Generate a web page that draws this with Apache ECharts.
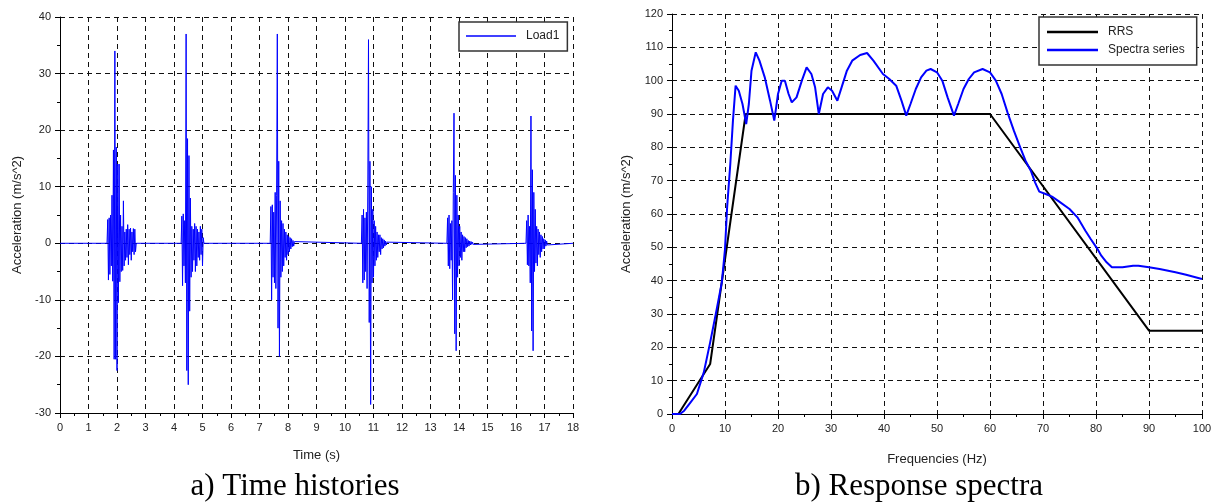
<!DOCTYPE html>
<html>
<head>
<meta charset="utf-8">
<script src="https://cdn.jsdelivr.net/npm/echarts@6/dist/echarts.min.js"></script>
<style>
  html, body { margin: 0; padding: 0; background: #fff; }
  #chart { width: 1215px; height: 504px; }
</style>
</head>
<body>
<div id="chart"></div>
<script>
// a) time histories - one burst per shock, sampled every timeStep seconds
var timeStep = 0.025;
var burstStart = [1.65, 4.25, 7.375, 10.575, 13.575, 16.35];
var burst1 = [0, 4.2, -6.5, 4.5, -5.5, 5, -4, 8.5, -6.7, 16.5, -20.5, 34, -20.5, 17, -22.5, 14, -10.5, 14, -6.8, 5,
  -5, 3, -4.8, 7.5, -4, 2, -3, 2.5, -2.5, 3.3, -3.8, 2.5, -2, 2.7, -3, 2, -1.5, 2.6, -2, 2.5, -1.5, 0];
var burst2 = [0, 4.8, -7.5, 5.2, -4, 4, -7, 37, -22.5, 18.5, -25, 15.5, -12, 8, -6, 3, -5, 2.5, -3, 3.5,
  -5, 3, -4, 2.5, -2.5, 2, -3, 3, -2, 2.5, -4, 1, 0];
var burst3 = [0, 6.5, -10, 6.8, -6, 5.5, -7, 9, -8, 8.5, 37, -15, 14.5, -20, 7.5, -6, 4, -5, 3.5, -4,
  2.5, -2.5, 2, -3, 1.5, -2, 1.2, -1.5, 1, -1, 0.8, -0.6, 0.5, -0.5, 0.3, 0];
var burst4 = [0, 5, -7, 6, -6.5, 4.5, -5, 5.5, -8, 10, 36, -14, 14.5, -28.5, 10, -7, 6, -6, 4, -4,
  3, -3, 2, -2.5, 1.5, -1.5, 1.5, -2, 1, -1, 0.8, -0.8, 0.6, -0.5, 0.4, -0.3, 0.2, 0];
var burst5 = [0, 4.5, -4, 5, -4.5, 3.5, -3, 4, -10, 9, 23, -16, 12, -19, 8.5, -6, 5, -4, 3, -2.5,
  2, -3, 1.5, -1.5, 1.2, -1.5, 1, -0.8, 0.8, -0.6, 0.5, -0.5, 0.4, -0.3, 0.3, -0.2, 0.2, -0.2, 0.1, 0];
var burst6 = [0, 4, -3.8, 5, -4, 3, -7, 22.5, -15.5, 13, -19, 9, -5, 6, -3.5, 3, -4, 2.5, -2, 2,
  -2.5, 1.5, -1.5, 1.2, -1, 0.8, -1, 0.6, -0.5, 0.4, -0.3, 0];
var bursts = [burst1, burst2, burst3, burst4, burst5, burst6];
var timeRange = [0, 18];

// b) response spectra
var rrsFreq = [0, 1.2, 7.2, 13.9, 60, 90, 100];
var rrsAcc = [0, 0, 15, 90, 90, 25, 25];
var specFreq = [0, 1.5, 2.3, 3.5, 4.7, 6, 7.2, 8.2, 9.4, 10, 10.4, 11, 11.5, 12, 12.6, 13.3, 14, 14.5, 15, 15.8,
  16.5, 17.5, 18.5, 19.3, 20, 20.7, 21.3, 22, 22.6, 23.5, 24.5, 25.4, 26.3, 27, 27.7, 28.5, 29.4, 30.2, 31.2, 32,
  33, 34, 35.5, 36.8, 38, 39.8, 41, 42.3, 43.3, 44.2, 45, 46, 47, 48, 48.8, 50, 51, 52, 53.2, 54,
  55, 56, 57, 58.6, 60, 61.1, 62.2, 63.3, 64.5, 65.7, 66.7, 67.7, 68.5, 69.3, 70.5, 71.7, 73, 75, 76.5, 78,
  79, 80.2, 81, 82, 83, 85, 87, 88, 90, 92, 95, 97, 100];
var specAcc = [0, 0, 1, 3.5, 6, 12.5, 21.5, 29.5, 39.5, 49.5, 62, 75, 88, 98.5, 97, 93, 87, 93, 103, 108.5,
  106, 101, 94, 88, 96, 100, 100, 96, 93.5, 95, 100, 104, 102, 98, 90, 96, 98, 97, 94, 98,
  103, 106, 107.7, 108.3, 106, 102, 100.5, 98.5, 94, 89.5, 93, 97.5, 101, 103, 103.5, 102.5, 100, 95, 89.5, 93,
  97.5, 100.5, 102.5, 103.5, 102.5, 100, 96, 90.5, 85, 80, 76, 73, 69.5, 66.7, 66, 65.2, 63.8, 61.5, 59, 55,
  52.5, 49.7, 47.5, 45.5, 44, 44, 44.5, 44.5, 44, 43.5, 42.5, 41.8, 40.5];

var loadData = [[timeRange[0], 0]];
for (var b = 0; b < bursts.length; b++) {
  for (var i = 0; i < bursts[b].length; i++) {
    loadData.push([+(burstStart[b] + i * timeStep).toFixed(3), bursts[b][i]]);
  }
}
loadData.push([timeRange[1], 0]);

function pairs(xs, ys) {
  var res = [];
  for (var i = 0; i < xs.length; i++) res.push([xs[i], ys[i]]);
  return res;
}

var font = "'Liberation Sans', Arial, sans-serif";
var dash = { color: '#111', width: 1, type: [5, 4] };

function axis(opt) {
  var a = {
    type: 'value',
    gridIndex: opt.grid,
    min: opt.min, max: opt.max, interval: opt.interval,
    name: opt.name, nameLocation: 'middle', nameGap: opt.gap,
    nameTextStyle: { fontFamily: font, fontSize: 13, color: '#222' },
    axisLine: { show: true, onZero: false, lineStyle: { color: '#000', width: 1 } },
    axisTick: { show: true, length: 5, lineStyle: { color: '#000' } },
    minorTick: { show: true, splitNumber: 2, length: 3, lineStyle: { color: '#000' } },
    axisLabel: { fontFamily: font, fontSize: 11, color: '#222', margin: 9 },
    splitLine: { show: true, lineStyle: dash }
  };
  if (opt.rotate) a.nameRotate = 90;
  return a;
}

var chart = echarts.init(document.getElementById('chart'), null, { renderer: 'canvas' });
var option = {
  animation: false,
  backgroundColor: '#fff',
  grid: [
    { left: 60, top: 17, width: 513, height: 396 },
    { left: 672, top: 14, width: 530, height: 400 }
  ],
  xAxis: [
    axis({ grid: 0, min: 0, max: 18, interval: 1, name: 'Time (s)', gap: 36 }),
    axis({ grid: 1, min: 0, max: 100, interval: 10, name: 'Frequencies (Hz)', gap: 39 })
  ],
  yAxis: [
    axis({ grid: 0, min: -30, max: 40, interval: 10, name: 'Acceleration (m/s^2)', gap: 36, rotate: true }),
    axis({ grid: 1, min: 0, max: 120, interval: 10, name: 'Acceleration (m/s^2)', gap: 39, rotate: true })
  ],
  legend: [
    {
      data: ['Load1'], left: 459, top: 22, orient: 'vertical',
      padding: [8, 8, 9, 7], itemWidth: 50, itemHeight: 1.5, itemGap: 5, icon: 'rect',
      borderColor: '#333', borderWidth: 1.5, backgroundColor: '#fff',
      textStyle: { fontFamily: font, fontSize: 12, color: '#222', padding: [0, 0, 0, 5] }
    },
    {
      data: ['RRS', 'Spectra series'], left: 1039, top: 17, orient: 'vertical',
      padding: [9, 12, 9, 8], itemWidth: 51, itemHeight: 2.5, itemGap: 6, icon: 'rect',
      borderColor: '#333', borderWidth: 1.5, backgroundColor: '#fff',
      textStyle: { fontFamily: font, fontSize: 12, color: '#222', padding: [0, 0, 0, 5] }
    }
  ],
  series: [
    {
      name: 'Load1', type: 'line', xAxisIndex: 0, yAxisIndex: 0,
      data: loadData, showSymbol: false, symbol: 'none', sampling: null,
      lineStyle: { color: '#0000ff', width: 1 }, itemStyle: { color: '#0000ff' }
    },
    {
      name: 'RRS', type: 'line', xAxisIndex: 1, yAxisIndex: 1,
      data: pairs(rrsFreq, rrsAcc), symbol: 'none',
      lineStyle: { color: '#000', width: 2 }, itemStyle: { color: '#000' }
    },
    {
      name: 'Spectra series', type: 'line', xAxisIndex: 1, yAxisIndex: 1,
      data: pairs(specFreq, specAcc), symbol: 'none',
      lineStyle: { color: '#0000ff', width: 2 }, itemStyle: { color: '#0000ff' }
    }
  ],
  graphic: [
    {
      type: 'text', x: 295, y: 487,
      style: { text: 'a) Time histories', font: "31px 'Liberation Serif', 'Times New Roman', serif",
        fill: '#000', textAlign: 'center', textVerticalAlign: 'middle' }
    },
    {
      type: 'text', x: 919, y: 487,
      style: { text: 'b) Response spectra', font: "31px 'Liberation Serif', 'Times New Roman', serif",
        fill: '#000', textAlign: 'center', textVerticalAlign: 'middle' }
    }
  ]
};
chart.setOption(option);
</script>
</body>
</html>
